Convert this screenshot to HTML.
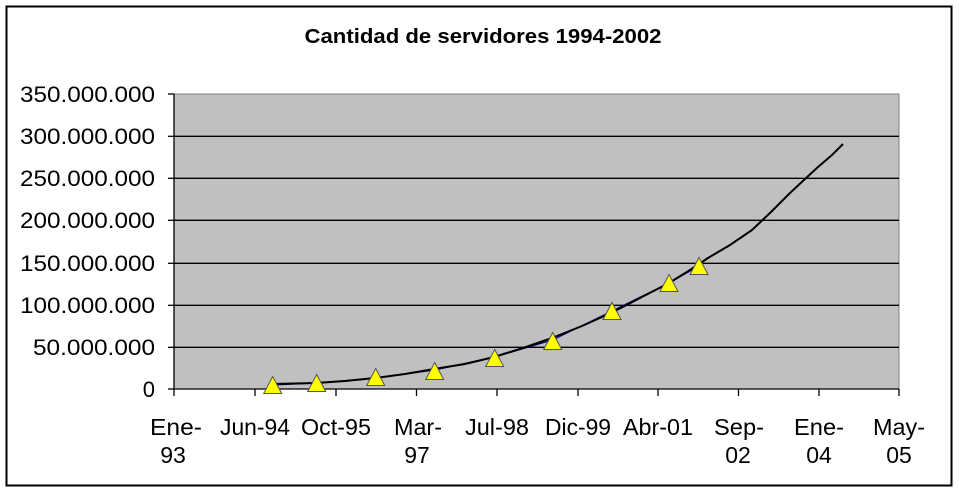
<!DOCTYPE html>
<html><head><meta charset="utf-8"><style>html,body{margin:0;padding:0;background:#fff}svg{display:block}</style></head>
<body>
<svg width="959" height="493" viewBox="0 0 959 493" xmlns="http://www.w3.org/2000/svg" font-family="Liberation Sans, Arial, sans-serif">
<rect x="0" y="0" width="959" height="493" fill="#fff"/>
<rect x="6.5" y="6.5" width="945" height="479" fill="none" stroke="#000" stroke-width="2"/>
<text x="483" y="43" font-size="20" font-weight="bold" text-anchor="middle" textLength="357" lengthAdjust="spacingAndGlyphs">Cantidad de servidores 1994-2002</text>
<rect x="174" y="94" width="725" height="295" fill="#c0c0c0" stroke="#808080" stroke-width="1"/>
<g stroke="#000" stroke-width="1.3">
<line x1="174" y1="136.3" x2="899" y2="136.3"/>
<line x1="174" y1="178.3" x2="899" y2="178.3"/>
<line x1="174" y1="220.3" x2="899" y2="220.3"/>
<line x1="174" y1="263.3" x2="899" y2="263.3"/>
<line x1="174" y1="305.3" x2="899" y2="305.3"/>
<line x1="174" y1="347.3" x2="899" y2="347.3"/>
<line x1="174" y1="389" x2="899" y2="389"/>
<line x1="174" y1="94" x2="174" y2="389"/>
<g>
<line x1="168" y1="94" x2="174" y2="94"/><line x1="168" y1="136.3" x2="174" y2="136.3"/><line x1="168" y1="178.3" x2="174" y2="178.3"/><line x1="168" y1="220.3" x2="174" y2="220.3"/><line x1="168" y1="263.3" x2="174" y2="263.3"/><line x1="168" y1="305.3" x2="174" y2="305.3"/><line x1="168" y1="347.3" x2="174" y2="347.3"/><line x1="168" y1="389" x2="174" y2="389"/>
<line x1="174" y1="389" x2="174" y2="396"/><line x1="255" y1="389" x2="255" y2="396"/><line x1="336" y1="389" x2="336" y2="396"/><line x1="416.5" y1="389" x2="416.5" y2="396"/><line x1="497" y1="389" x2="497" y2="396"/><line x1="578" y1="389" x2="578" y2="396"/><line x1="658" y1="389" x2="658" y2="396"/><line x1="738.5" y1="389" x2="738.5" y2="396"/><line x1="819" y1="389" x2="819" y2="396"/><line x1="899" y1="389" x2="899" y2="396"/>
</g>
</g>
<g font-size="22" text-anchor="end" fill="#000">
<text x="155" y="102" textLength="135" lengthAdjust="spacingAndGlyphs">350.000.000</text>
<text x="155" y="144" textLength="135" lengthAdjust="spacingAndGlyphs">300.000.000</text>
<text x="155" y="186" textLength="135" lengthAdjust="spacingAndGlyphs">250.000.000</text>
<text x="155" y="228" textLength="135" lengthAdjust="spacingAndGlyphs">200.000.000</text>
<text x="155" y="271" textLength="135" lengthAdjust="spacingAndGlyphs">150.000.000</text>
<text x="155" y="313" textLength="135" lengthAdjust="spacingAndGlyphs">100.000.000</text>
<text x="155" y="355" textLength="122" lengthAdjust="spacingAndGlyphs">50.000.000</text>
<text x="155" y="397">0</text>
</g>
<g font-size="23" text-anchor="middle" fill="#000">
<text x="176" y="435" textLength="52" lengthAdjust="spacingAndGlyphs">Ene-</text><text x="173" y="463">93</text>
<text x="255" y="435" textLength="70" lengthAdjust="spacingAndGlyphs">Jun-94</text>
<text x="336" y="435" textLength="70" lengthAdjust="spacingAndGlyphs">Oct-95</text>
<text x="418" y="435" textLength="48" lengthAdjust="spacingAndGlyphs">Mar-</text><text x="417" y="463">97</text>
<text x="497" y="435" textLength="64" lengthAdjust="spacingAndGlyphs">Jul-98</text>
<text x="578" y="435" textLength="66" lengthAdjust="spacingAndGlyphs">Dic-99</text>
<text x="658" y="435" textLength="70" lengthAdjust="spacingAndGlyphs">Abr-01</text>
<text x="739" y="435" textLength="50" lengthAdjust="spacingAndGlyphs">Sep-</text><text x="738" y="463">02</text>
<text x="819" y="435" textLength="50" lengthAdjust="spacingAndGlyphs">Ene-</text><text x="819" y="463">04</text>
<text x="899" y="435" textLength="52" lengthAdjust="spacingAndGlyphs">May-</text><text x="899" y="463">05</text>
</g>
<polyline fill="none" stroke="#000080" stroke-width="1.2" points="272.7,385 316.7,383 375.7,378 434.7,370 494.7,357 552.7,340 612,311 669,283 699,266"/>
<polyline fill="none" stroke="#000" stroke-width="2" stroke-linejoin="round" points="272,384 316,383 345,381 375,378 405,374 434,369 465,364 494,357 523,348 552,338 582,326 611,313 640,298 669,283 690,270 708,258 730,245 752,230 771,212 790,193 805,179 818,167 832,155 843,144"/>
<g fill="#ffff00" stroke="#555" stroke-width="1">
<polygon points="272.7,376.5 263.7,393.5 281.7,393.5"/>
<polygon points="316.7,374.5 307.7,391.5 325.7,391.5"/>
<polygon points="375.7,368.5 366.7,385.5 384.7,385.5"/>
<polygon points="434.7,362.5 425.7,379.5 443.7,379.5"/>
<polygon points="494.7,349.5 485.7,366.5 503.7,366.5"/>
<polygon points="552.7,332.5 543.7,349.5 561.7,349.5"/>
<polygon points="612,302.5 603,319.5 621,319.5"/>
<polygon points="669,274.5 660,291.5 678,291.5"/>
<polygon points="699,257.5 690,274.5 708,274.5"/>
</g>
</svg>
</body></html>
